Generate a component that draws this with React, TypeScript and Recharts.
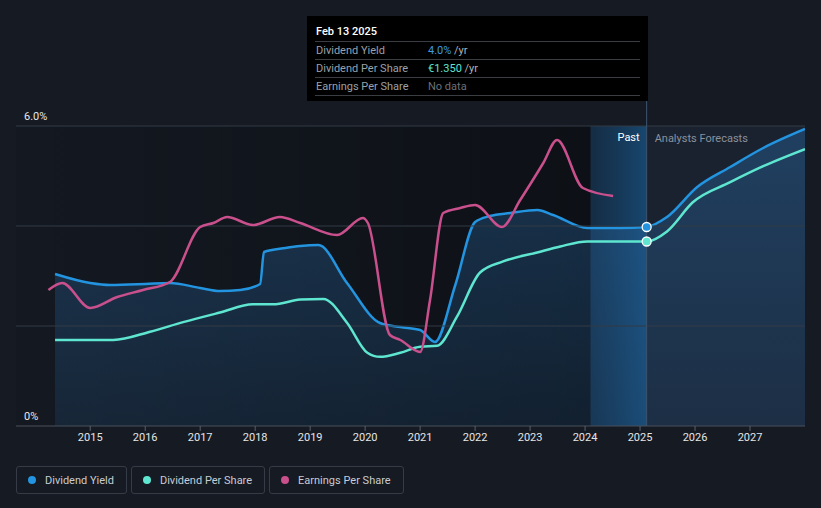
import {
  ComposedChart,
  Area,
  Line,
  XAxis,
  YAxis,
  ReferenceArea,
  ReferenceLine,
} from 'recharts'

// dates are fractional years
const TODAY = 2025.12
const PAST_BAND_START = 2024.1
const X_DOMAIN: [number, number] = [2013.65, 2028.0]
const YEAR_TICKS = [2015, 2016, 2017, 2018, 2019, 2020, 2021, 2022, 2023, 2024, 2025, 2026, 2027]
const GRID_LEVELS = [2, 4, 6]

const yieldDates = [
  2014.36, 2015.0, 2015.36, 2016.0, 2016.45, 2017.0, 2017.36, 2017.73, 2018.09, 2018.16,
  2018.55, 2018.82, 2019.15, 2019.67, 2020.27, 2020.64, 2021.0, 2021.27, 2021.64, 2022.0,
  2022.27, 2022.64, 2023.13, 2023.42, 2024.04, 2024.64, TODAY, 2025.49, 2026.04, 2026.64,
  2027.24, 2028.0,
]
const yieldValues = [
  3.04, 2.86, 2.82, 2.84, 2.86, 2.76, 2.7, 2.72, 2.84, 3.48,
  3.56, 3.6, 3.62, 2.86, 2.06, 1.98, 1.92, 1.68, 2.82, 4.08,
  4.2, 4.26, 4.32, 4.22, 3.96, 3.96, 3.98, 4.18, 4.78, 5.18,
  5.56, 5.94,
]

const dpsDates = [
  2014.36, 2015.42, 2016.09, 2016.69, 2017.36, 2017.96, 2018.33, 2018.82, 2019.24, 2019.67,
  2020.04, 2020.27, 2020.64, 2021.0, 2021.31, 2021.67, 2022.09, 2022.51, 2023.13, 2023.55,
  2024.04, TODAY, 2025.49, 2025.96, 2026.64, 2027.24, 2028.0,
]
const dpsValues = [
  0.63, 0.63, 0.69, 0.76, 0.83, 0.89, 0.89, 0.925, 0.93, 0.756,
  0.536, 0.506, 0.536, 0.58, 0.587, 0.8, 1.123, 1.204, 1.27, 1.314,
  1.35, 1.35, 1.424, 1.637, 1.784, 1.901, 2.026,
]

const epsDates = [
  2014.24, 2014.49, 2015.0, 2015.49, 2015.96, 2016.45, 2017.0, 2017.24, 2017.49, 2017.96,
  2018.45, 2018.82, 2019.49, 2019.96, 2020.05, 2020.45, 2020.64, 2021.0, 2021.18, 2021.42,
  2021.73, 2022.0, 2022.49, 2022.82, 2023.24, 2023.49, 2023.96, 2024.51,
]
const epsValues = [
  1.36, 1.43, 1.18, 1.29, 1.36, 1.44, 1.99, 2.03, 2.09, 2.01,
  2.09, 2.03, 1.91, 2.08, 2.03, 0.91, 0.86, 0.74, 1.26, 2.13,
  2.18, 2.21, 1.99, 2.26, 2.63, 2.86, 2.38, 2.3,
]

const toRows = (dates: number[], values: number[]) => dates.map((x, i) => ({ x, v: values[i] }))

const yieldData = toRows(yieldDates, yieldValues)
const dpsData = toRows(dpsDates, dpsValues)
const epsData = toRows(epsDates, epsValues)

const BLUE = '#2394df'
const TEAL = '#5ee6d0'
const PINK = '#c9508c'
const BG = '#151a23'

const todayDot = (color: string) => (props: any) => {
  if (props.payload?.x !== TODAY) return <g key={props.index} />
  return (
    <circle
      key={props.index}
      cx={props.cx}
      cy={props.cy}
      r={4.5}
      fill={color}
      stroke="#ffffff"
      strokeWidth={1.3}
    />
  )
}

const yLabel = (text: string) => ({
  value: text,
  position: 'insideBottomLeft' as const,
  offset: 0,
  fill: '#e8e8e8',
  fontSize: 11,
  dx: 8,
  dy: -6,
})

const tooltipRows = [
  { label: 'Dividend Yield', value: '4.0%', color: '#3c9be0', unit: ' /yr' },
  { label: 'Dividend Per Share', value: '€1.350', color: TEAL, unit: ' /yr' },
  { label: 'Earnings Per Share', value: 'No data', color: '#6b7078', unit: '' },
]

const legendItems = [
  { label: 'Dividend Yield', color: BLUE },
  { label: 'Dividend Per Share', color: TEAL },
  { label: 'Earnings Per Share', color: PINK },
]

export default function App() {
  return (
    <div
      style={{
        position: 'fixed',
        left: 0,
        top: 0,
        width: 821,
        height: 508,
        background: BG,
        fontFamily: 'Roboto, sans-serif',
        overflow: 'hidden',
      }}
    >
      <ComposedChart
        width={821}
        height={460}
        margin={{ top: 16, right: 16, bottom: 4, left: 16 }}
      >
        <defs>
          <linearGradient id="pastShade" x1="0" y1="0" x2="1" y2="0">
            <stop offset="0%" stopColor="#000" stopOpacity={0.05} />
            <stop offset="100%" stopColor="#000" stopOpacity={0.38} />
          </linearGradient>
          <linearGradient id="pastBand" x1="0" y1="0" x2="1" y2="0">
            <stop offset="0%" stopColor="#15395a" stopOpacity={0.6} />
            <stop offset="100%" stopColor="#17476f" stopOpacity={1} />
          </linearGradient>
          <linearGradient id="yieldFill" x1="0" y1="0" x2="0" y2="1">
            <stop offset="0%" stopColor="#2a70b0" stopOpacity={0.38} />
            <stop offset="100%" stopColor="#2a70b0" stopOpacity={0.16} />
          </linearGradient>
        </defs>
        <XAxis
          dataKey="x"
          type="number"
          domain={X_DOMAIN}
          ticks={YEAR_TICKS}
          allowDataOverflow
          tickFormatter={(v) => String(v)}
          tick={{ fill: '#e6e6e6', fontSize: 11 }}
          tickLine={{ stroke: '#5a606a' }}
          tickSize={5}
          axisLine={{ stroke: '#4a505b' }}
          height={30}
        />
        <YAxis yAxisId="pct" hide domain={[0, 8.2]} />
        <YAxis yAxisId="dps" hide domain={[0, 3.0]} />
        <YAxis yAxisId="eps" hide domain={[0, 4.1]} />
        <ReferenceArea
          yAxisId="pct"
          x1={X_DOMAIN[0]}
          x2={PAST_BAND_START}
          y1={0}
          y2={6}
          fill="url(#pastShade)"
          fillOpacity={1}
        />
        <ReferenceArea
          yAxisId="pct"
          x1={PAST_BAND_START}
          x2={TODAY}
          y1={0}
          y2={6}
          fill="url(#pastBand)"
          fillOpacity={1}
          label={{ value: 'Past', position: 'insideTopRight', offset: 7, fill: '#ffffff', fontSize: 11 }}
        />
        <ReferenceArea
          yAxisId="pct"
          x1={TODAY}
          x2={X_DOMAIN[1]}
          y1={0}
          y2={6}
          fill="#1a2230"
          fillOpacity={1}
          label={{
            value: 'Analysts Forecasts',
            position: 'insideTopLeft',
            offset: 8,
            fill: '#8a919c',
            fontSize: 11,
          }}
        />
        {GRID_LEVELS.map((lvl) => (
          <ReferenceLine key={lvl} yAxisId="pct" y={lvl} stroke="#333a45" />
        ))}
        <ReferenceLine yAxisId="pct" y={0} stroke="none" label={yLabel('0%')} />
        <ReferenceLine yAxisId="pct" y={6} stroke="none" label={yLabel('6.0%')} />
        <ReferenceLine yAxisId="pct" x={TODAY} stroke="#3d5570" strokeWidth={1} />
        <Area
          yAxisId="pct"
          data={yieldData}
          dataKey="v"
          type="monotone"
          stroke={BLUE}
          strokeWidth={2.5}
          fill="url(#yieldFill)"
          fillOpacity={1}
          baseValue={0}
          dot={todayDot(BLUE)}
          activeDot={false}
          isAnimationActive={false}
        />
        <Line
          yAxisId="dps"
          data={dpsData}
          dataKey="v"
          type="monotone"
          stroke={TEAL}
          strokeWidth={2.5}
          dot={todayDot(TEAL)}
          activeDot={false}
          isAnimationActive={false}
        />
        <Line
          yAxisId="eps"
          data={epsData}
          dataKey="v"
          type="monotone"
          stroke={PINK}
          strokeWidth={2.5}
          dot={false}
          activeDot={false}
          isAnimationActive={false}
        />
      </ComposedChart>

      <div
        style={{
          position: 'absolute',
          left: 307,
          top: 16,
          width: 341,
          height: 85,
          background: '#000',
          fontSize: 11,
        }}
      >
        <div style={{ position: 'absolute', left: 9, top: 9, color: '#fff', fontWeight: 500 }}>
          Feb 13 2025
        </div>
        <div style={{ position: 'absolute', left: 8, top: 25, width: 325 }}>
          {tooltipRows.map((r) => (
            <div
              key={r.label}
              style={{
                display: 'flex',
                height: 17,
                lineHeight: '17px',
                borderTop: '1px solid #3a3d42',
              }}
            >
              <span style={{ width: 112, paddingLeft: 1, color: '#9aa0a8' }}>{r.label}</span>
              <span style={{ color: r.color }}>{r.value}</span>
              <span style={{ color: '#b0b3b8', whiteSpace: 'pre' }}>{r.unit}</span>
            </div>
          ))}
          <div style={{ borderTop: '1px solid #3a3d42' }} />
        </div>
      </div>

      <div style={{ position: 'absolute', left: 16, top: 466, display: 'flex', gap: 4 }}>
        {legendItems.map((item) => (
          <div
            key={item.label}
            style={{
              display: 'flex',
              alignItems: 'center',
              height: 26,
              padding: '0 12px 0 11px',
              border: '1px solid #363c47',
              borderRadius: 3,
              color: '#c8ccd2',
              fontSize: 11,
            }}
          >
            <span
              style={{
                width: 8,
                height: 8,
                borderRadius: 4,
                background: item.color,
                marginRight: 9,
              }}
            />
            {item.label}
          </div>
        ))}
      </div>
    </div>
  )
}
